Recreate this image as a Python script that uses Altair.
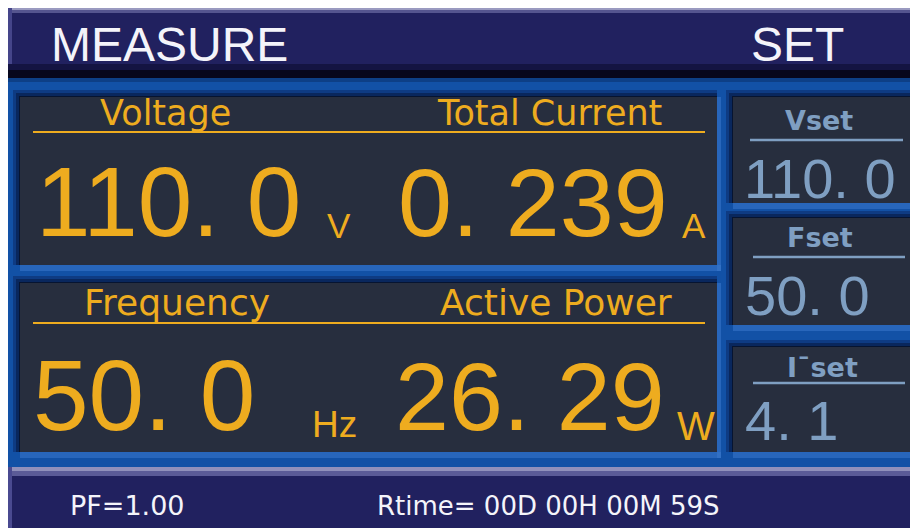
import altair as alt
import pandas as pd

# ---------------- content ----------------
header_titles = ["MEASURE", "SET"]
measure_labels = ["Voltage", "Total Current", "Frequency", "Active Power"]
measure_values = ["110. 0", "0. 239", "50. 0", "26. 29"]
measure_units = ["V", "A", "Hz", "W"]
set_labels = ["Vset", "Fset", "I\u00afset"]
set_values = ["110. 0", "50. 0", "4. 1"]
status_texts = ["PF=1.00", "Rtime= 00D 00H 00M 59S"]

# ---------------- styles ----------------
NAVY = "#21215f"
BLUE = "#1251a6"
HILITE = "#3a78cc"
PANEL = "#272e3e"
ORANGE = "#eeac1f"
STEEL = "#7f9fc2"
WHITE = "#f4f4fa"

# ---------------- layout (pixel frame of the display) ----------------
XR = 910  # right edge of drawable area
rects = [
    # header band
    (8, 8, XR, 78, NAVY, 1.0),
    (8, 8, XR, 10, "#9a9ac0", 1.0),
    (8, 10, XR, 13, "#55558f", 1.0),
    (8, 8, 12, 66, "#45458a", 1.0),
    (8, 64, XR, 70, "#141442", 1.0),
    (8, 70, XR, 78, "#07071c", 1.0),
    # blue frame
    (8, 78, XR, 467, BLUE, 1.0),
    (8, 78, XR, 82, "#0d3f86", 1.0),
    # bottom band
    (8, 467, XR, 528, NAVY, 1.0),
    (8, 467, XR, 471, "#9090bb", 1.0),
    (8, 471, XR, 476, "#5b5b97", 1.0),
    (8, 467, 12, 528, "#4a4a90", 1.0),
]
panels = [
    (20, 97, 717, 265),
    (20, 283, 717, 452),
    (733, 97, XR, 203),
    (733, 218, XR, 325),
    (733, 347, XR, 452),
]
# light highlights just below / right of each panel
for (x1, y1, x2, y2) in panels:
    rects.append((x1, y2, x2 + 4, y2 + 6, HILITE, 0.55))
    rects.append((x2, y1, x2 + 4, y2 + 6, HILITE, 0.55))
for (x1, y1, x2, y2) in panels:
    rects.append((x1 - 7, y1 - 7, x2, y2, "#0b2a66", 0.55))
    rects.append((x1 - 4, y1 - 4, x2, y2, "#061a44", 0.6))
    rects.append((x1 - 1, y1 - 1, x2, y2, "#050d20", 0.7))
    rects.append((x1, y1, x2, y2, PANEL, 1.0))

rect_df = pd.DataFrame(rects, columns=["x1", "y1", "x2", "y2", "color", "op"])

rules = [
    (33, 705, 132, ORANGE, 2.2),
    (33, 705, 323, ORANGE, 2.2),
    (750, 903, 140, STEEL, 2.5),
    (753, 905, 257, STEEL, 2.5),
    (753, 905, 383, STEEL, 2.5),
]
rule_df = pd.DataFrame(rules, columns=["x1", "x2", "y", "color", "w"])

# Liberation Sans group
lib = []
lib.append((51, 61, header_titles[0], 48, WHITE))
lib.append((751, 61, header_titles[1], 48, WHITE))
lib.append((36, 236, measure_values[0], 98, ORANGE))
lib.append((398, 236, measure_values[1], 97, ORANGE))
lib.append((33, 430, measure_values[2], 100, ORANGE))
lib.append((395, 430, measure_values[3], 97, ORANGE))
lib.append((327, 238, measure_units[0], 35, ORANGE))
lib.append((682, 238, measure_units[1], 35, ORANGE))
lib.append((312, 437, measure_units[2], 37, ORANGE))
lib.append((677, 440, measure_units[3], 40, ORANGE))
lib.append((744, 198, set_values[0], 56, STEEL))
lib.append((745, 315, set_values[1], 56, STEEL))
lib.append((745, 440, set_values[2], 56, STEEL))
lib_df = pd.DataFrame(lib, columns=["x", "y", "text", "size", "color"])

dej = []
dej.append((100, 125, measure_labels[0], 35, ORANGE))
dej.append((438, 125, measure_labels[1], 35, ORANGE))
dej.append((84, 315, measure_labels[2], 36, ORANGE))
dej.append((440, 315, measure_labels[3], 36, ORANGE))
dej.append((70, 515, status_texts[0], 27, WHITE))
dej.append((377, 515, status_texts[1], 26, WHITE))
dej_df = pd.DataFrame(dej, columns=["x", "y", "text", "size", "color"])

bold = []
bold.append((785, 130, set_labels[0], 27, STEEL))
bold.append((787, 247, set_labels[1], 27, STEEL))
bold.append((787, 377, set_labels[2], 27, STEEL))
bold_df = pd.DataFrame(bold, columns=["x", "y", "text", "size", "color"])

xs = alt.Scale(domain=[8, XR], nice=False, zero=False)
ys = alt.Scale(domain=[8, 528], nice=False, zero=False, reverse=True)

rect_layer = alt.Chart(rect_df).mark_rect().encode(
    x=alt.X("x1:Q", scale=xs, axis=None),
    x2="x2:Q",
    y=alt.Y("y1:Q", scale=ys, axis=None),
    y2="y2:Q",
    color=alt.Color("color:N", scale=None),
    opacity=alt.Opacity("op:Q", scale=None),
)

rule_layer = alt.Chart(rule_df).mark_rule().encode(
    x=alt.X("x1:Q", scale=xs, axis=None),
    x2="x2:Q",
    y=alt.Y("y:Q", scale=ys, axis=None),
    color=alt.Color("color:N", scale=None),
    strokeWidth=alt.StrokeWidth("w:Q", scale=None),
)


def text_layer(df, font, weight):
    return alt.Chart(df).mark_text(
        align="left", baseline="alphabetic", font=font, fontWeight=weight
    ).encode(
        x=alt.X("x:Q", scale=xs, axis=None),
        y=alt.Y("y:Q", scale=ys, axis=None),
        text="text:N",
        size=alt.Size("size:Q", scale=None),
        color=alt.Color("color:N", scale=None),
    )


chart = alt.layer(
    rect_layer,
    rule_layer,
    text_layer(lib_df, "Liberation Sans", "normal"),
    text_layer(dej_df, "DejaVu Sans", "normal"),
    text_layer(bold_df, "DejaVu Sans", "bold"),
).properties(
    width=XR - 8,
    height=520,
    padding=0,
    autosize=alt.AutoSizeParams(type="none"),
    background="white",
).configure_view(stroke=None)

chart.save("out.html", embed_options={"renderer": "svg", "actions": False})
